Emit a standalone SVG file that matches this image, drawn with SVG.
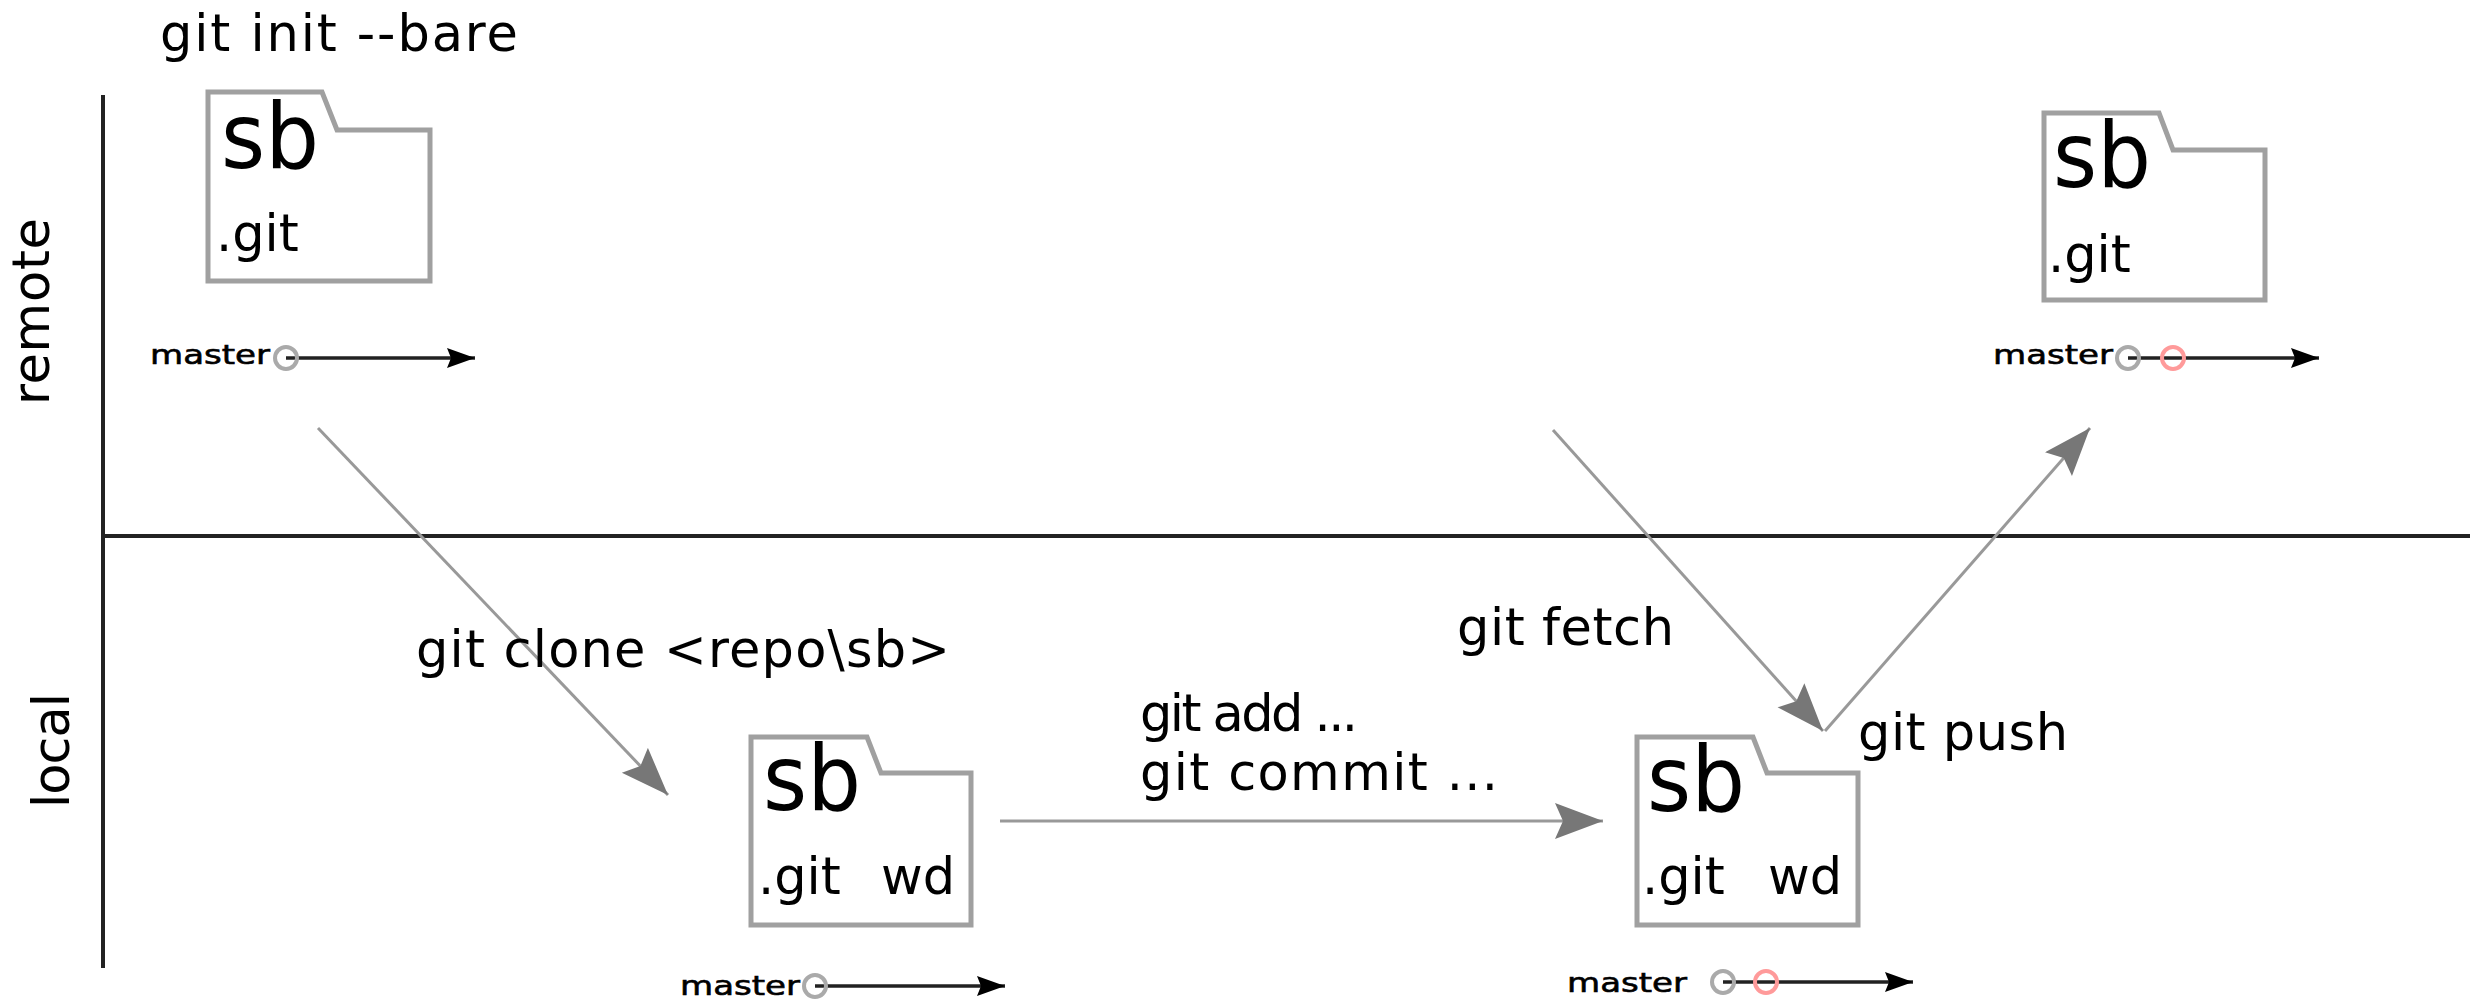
<svg xmlns="http://www.w3.org/2000/svg" width="2474" height="1002" viewBox="0 0 2474 1002">
<style>
text{font-family:"DejaVu Sans",sans-serif;fill:#000}
.l{font-size:51px}.sb{font-size:91px}.g{font-size:51px}.m{font-size:27px;stroke:#000;stroke-width:.6px}
.f{fill:#fff;stroke:#a0a0a0;stroke-width:5}
.c{fill:none;stroke-width:4}.cr{stroke:#ff9a9a}.cg{stroke:#aaa}
.h{stroke:#222;stroke-width:3.5;fill:none;marker-end:url(#b)}
.a{stroke:#999;stroke-width:3;fill:none;marker-end:url(#g)}
.ax{stroke:#222;stroke-width:4;fill:none}
</style>
<defs>
<marker id="b" markerUnits="userSpaceOnUse" markerWidth="30" markerHeight="24" refX="28" refY="10" orient="auto"><path d="M0 0L28 10L0 20L4 10Z" fill="#000"/></marker>
<marker id="g" markerUnits="userSpaceOnUse" markerWidth="50" markerHeight="40" refX="48" refY="18" orient="auto"><path d="M0 0L48 18L0 36L8 18Z" fill="#777"/></marker>
</defs>
<g id="connectors">
<path class="ax" d="M103 95V968"/><path class="ax" d="M102 536H2470"/>
<path class="a" d="M318 428L668 795"/>
<path class="a" d="M1000 821H1603"/>
<path class="a" d="M1553 430L1823 731"/>
<path class="a" d="M1825 731L2090 428"/>
</g>
<g id="labels">
<text class="l" x="160" y="51" textLength="358">git init --bare</text>
<text class="l" x="416" y="667" textLength="534">git clone &lt;repo\sb&gt;</text>
<text class="l" x="1140" y="731" textLength="218">git add ...</text>
<text class="l" x="1140" y="790" textLength="358">git commit ...</text>
<text class="l" x="1457" y="645" textLength="217">git fetch</text>
<text class="l" x="1858" y="750" textLength="210">git push</text>
<text class="l" transform="translate(49 405) rotate(-90)" textLength="187">remote</text>
<text class="l" transform="translate(69 808) rotate(-90)" textLength="115">local</text>
</g>
<g id="repo-init">
<path class="f" d="M208 92H322L337 130H430V281H208Z"/>
<text class="sb" x="221" y="168" textLength="98" lengthAdjust="spacingAndGlyphs">sb</text><text class="g" x="216" y="251">.git</text>
<text class="m" x="150" y="364" textLength="120" lengthAdjust="spacingAndGlyphs">master</text>
<path class="h" d="M286 358H475"/><circle class="c cg" cx="286" cy="358" r="11"/>
</g>
<g id="repo-remote">
<path class="f" d="M2044 113H2159L2173 150H2265V300H2044Z"/>
<text class="sb" x="2053" y="187" textLength="98" lengthAdjust="spacingAndGlyphs">sb</text><text class="g" x="2048" y="272">.git</text>
<text class="m" x="1993" y="364" textLength="120" lengthAdjust="spacingAndGlyphs">master</text>
<path class="h" d="M2128 358H2319"/><circle class="c cg" cx="2128" cy="358" r="11"/><circle class="c cr" cx="2173" cy="358" r="11"/>
</g>
<g id="repo-clone">
<path class="f" d="M751 737H867L881 773H971V925H751Z"/>
<text class="sb" x="763" y="810" textLength="98" lengthAdjust="spacingAndGlyphs">sb</text><text class="g" x="758" y="894">.git</text><text class="g" x="881" y="894">wd</text>
<text class="m" x="680" y="995" textLength="120" lengthAdjust="spacingAndGlyphs">master</text>
<path class="h" d="M815 986H1005"/><circle class="c cg" cx="815" cy="986" r="11"/>
</g>
<g id="repo-work">
<path class="f" d="M1637 737H1753L1767 773H1858V925H1637Z"/>
<text class="sb" x="1647" y="811" textLength="98" lengthAdjust="spacingAndGlyphs">sb</text><text class="g" x="1642" y="894">.git</text><text class="g" x="1768" y="894">wd</text>
<text class="m" x="1567" y="992" textLength="120" lengthAdjust="spacingAndGlyphs">master</text>
<path class="h" d="M1723 982H1913"/><circle class="c cg" cx="1723" cy="982" r="11"/><circle class="c cr" cx="1766" cy="982" r="11"/>
</g>
</svg>
